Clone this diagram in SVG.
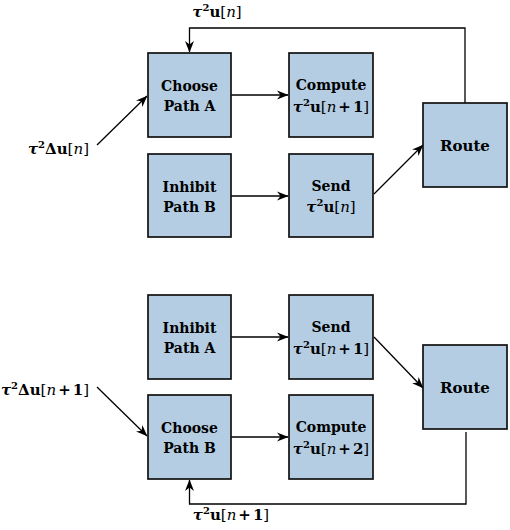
<svg xmlns="http://www.w3.org/2000/svg" width="510" height="530" viewBox="0 0 510 530">
<style>
.box{fill:#b4cde3;stroke:#111;stroke-width:1.7}
.lbl{font-family:"DejaVu Serif","Liberation Serif",serif;font-weight:bold;font-size:14px;fill:#000;text-anchor:middle}
.m{font-family:"DejaVu Serif","Liberation Serif",serif;font-weight:bold;font-size:15px;fill:#000}
.it{font-style:italic}
.nb{font-weight:normal}
.sup{font-size:10px}
.con{fill:none;stroke:#000;stroke-width:1.3}
</style>
<defs>
<marker id="arr" viewBox="0 0 12 10" markerWidth="12" markerHeight="10" refX="11" refY="5" orient="auto" markerUnits="userSpaceOnUse">
<path d="M0,0.5 L11.5,5 L0,9.5 L3.5,5 Z" fill="#000"/>
</marker>
</defs>
<g id="connectors">
<line class="con" x1="231" y1="95" x2="288" y2="95" marker-end="url(#arr)"/>
<line class="con" x1="231" y1="196" x2="288" y2="196" marker-end="url(#arr)"/>
<line class="con" x1="374" y1="194" x2="423" y2="145" marker-end="url(#arr)"/>
<polyline class="con" points="465,103 465,28 189.5,28 189.5,52" marker-end="url(#arr)"/>
<line class="con" x1="97" y1="145" x2="147" y2="96" marker-end="url(#arr)"/>
<line class="con" x1="231" y1="337" x2="288" y2="337" marker-end="url(#arr)"/>
<line class="con" x1="231" y1="437" x2="288" y2="437" marker-end="url(#arr)"/>
<line class="con" x1="374" y1="337" x2="423" y2="388" marker-end="url(#arr)"/>
<polyline class="con" points="466,432 466,504 189.5,504 189.5,480" marker-end="url(#arr)"/>
<line class="con" x1="97" y1="387" x2="147" y2="436" marker-end="url(#arr)"/>
</g>
<g id="label-top"><text class="m" x="217" y="17" text-anchor="middle"><tspan class="it">τ</tspan><tspan class="sup" dy="-6">2</tspan><tspan dy="6">u</tspan><tspan class="nb">[</tspan><tspan class="it nb">n</tspan><tspan class="nb">]</tspan></text></g>
<g id="label-in1"><text class="m" x="89" y="154" text-anchor="end"><tspan class="it">τ</tspan><tspan class="sup" dy="-6">2</tspan><tspan dy="6">Δu</tspan><tspan class="nb">[</tspan><tspan class="it nb">n</tspan><tspan class="nb">]</tspan></text></g>
<g id="label-in2"><text class="m" x="89" y="395" text-anchor="end"><tspan class="it">τ</tspan><tspan class="sup" dy="-6">2</tspan><tspan dy="6">Δu</tspan><tspan class="nb">[</tspan><tspan class="it nb">n</tspan><tspan dx="2">+</tspan><tspan dx="2">1</tspan><tspan class="nb">]</tspan></text></g>
<g id="label-bottom"><text class="m" x="231" y="520" text-anchor="middle"><tspan class="it">τ</tspan><tspan class="sup" dy="-6">2</tspan><tspan dy="6">u</tspan><tspan class="nb">[</tspan><tspan class="it nb">n</tspan><tspan dx="2">+</tspan><tspan dx="2">1</tspan><tspan class="nb">]</tspan></text></g>

<g id="choose-a"><rect class="box" x="148" y="53" width="83" height="84"/><text class="lbl" x="189.5" y="91">Choose</text><text class="lbl" x="189.5" y="111">Path A</text></g>
<g id="compute-a"><rect class="box" x="289" y="53" width="84" height="84"/><text class="lbl" x="331" y="90">Compute</text><text class="m" x="331" y="112" text-anchor="middle"><tspan class="it">τ</tspan><tspan class="sup" dy="-6">2</tspan><tspan dy="6">u</tspan><tspan class="nb">[</tspan><tspan class="it nb">n</tspan><tspan dx="2">+</tspan><tspan dx="2">1</tspan><tspan class="nb">]</tspan></text></g>
<g id="inhibit-b"><rect class="box" x="148" y="154" width="83" height="83"/><text class="lbl" x="189.5" y="192">Inhibit</text><text class="lbl" x="189.5" y="212">Path B</text></g>
<g id="send-a"><rect class="box" x="289" y="154" width="84" height="83"/><text class="lbl" x="331" y="191">Send</text><text class="m" x="331" y="212" text-anchor="middle"><tspan class="it">τ</tspan><tspan class="sup" dy="-6">2</tspan><tspan dy="6">u</tspan><tspan class="nb">[</tspan><tspan class="it nb">n</tspan><tspan class="nb">]</tspan></text></g>
<g id="route-1"><rect class="box" x="423" y="103" width="84" height="84"/><text class="lbl" x="465" y="151" style="font-size:15px">Route</text></g>

<g id="inhibit-a"><rect class="box" x="148" y="295" width="83" height="84"/><text class="lbl" x="189.5" y="333">Inhibit</text><text class="lbl" x="189.5" y="353">Path A</text></g>
<g id="send-b"><rect class="box" x="289" y="295" width="84" height="84"/><text class="lbl" x="331" y="332">Send</text><text class="m" x="331" y="354" text-anchor="middle"><tspan class="it">τ</tspan><tspan class="sup" dy="-6">2</tspan><tspan dy="6">u</tspan><tspan class="nb">[</tspan><tspan class="it nb">n</tspan><tspan dx="2">+</tspan><tspan dx="2">1</tspan><tspan class="nb">]</tspan></text></g>
<g id="choose-b"><rect class="box" x="148" y="395" width="83" height="84"/><text class="lbl" x="189.5" y="433">Choose</text><text class="lbl" x="189.5" y="453">Path B</text></g>
<g id="compute-b"><rect class="box" x="289" y="395" width="84" height="84"/><text class="lbl" x="331" y="432">Compute</text><text class="m" x="331" y="454" text-anchor="middle"><tspan class="it">τ</tspan><tspan class="sup" dy="-6">2</tspan><tspan dy="6">u</tspan><tspan class="nb">[</tspan><tspan class="it nb">n</tspan><tspan dx="2">+</tspan><tspan dx="2">2</tspan><tspan class="nb">]</tspan></text></g>
<g id="route-2"><rect class="box" x="423" y="345" width="84" height="84"/><text class="lbl" x="465" y="393" style="font-size:15px">Route</text></g>
</svg>
